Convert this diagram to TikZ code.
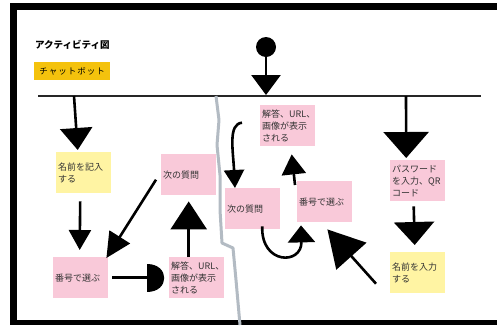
\documentclass[tikz,border=0pt]{standalone}
\usepackage{fontspec}
\newfontfamily\jp{Noto Sans CJK JP}
\newfontfamily\jptag[LetterSpace=12]{Noto Sans CJK JP}
\usetikzlibrary{arrows.meta,calc}
\definecolor{pinkbox}{HTML}{F9C9D9}
\definecolor{yellowbox}{HTML}{FFF4A3}
\definecolor{tagcol}{HTML}{F4C20D}
\definecolor{divcol}{HTML}{B3BBC3}
\definecolor{txt}{HTML}{333333}
\begin{document}
\begin{tikzpicture}[x=1pt,y=-1pt,
  box/.style={anchor=north west, inner xsep=2pt, inner ysep=0pt, align=left,
    text width=51pt, minimum width=55pt, minimum height=41pt,
    font=\jp\fontsize{9}{12}\selectfont, text=txt},
  pinkb/.style={box, fill=pinkbox},
  yellowb/.style={box, fill=yellowbox},
  conn/.style={line width=2.6pt, draw=black},
  ahead/.style 2 args={-{Triangle[width=#1pt,length=#2pt]}}]
\useasboundingbox (0,0) rectangle (497,325);
% frame
\fill[black] (10,3) rectangle (497,10);
\fill[black] (10,3) rectangle (17,325);
\fill[black] (10,320) rectangle (497,325);
% title and tag
\node[anchor=west, inner sep=0pt, font=\jp\bfseries\fontsize{9.5}{11}\selectfont] (title) at (35,45) {アクティビティ図};
\node[anchor=north west, fill=tagcol, minimum width=76pt, minimum height=18pt, inner sep=0pt,
  font=\jptag\fontsize{8.5}{10}\selectfont] (tag) at (34,62) {チャットボット};
% swimlane line and divider
\coordinate (laneA) at (38,96);
\coordinate (laneB) at (481,96);
\draw[line width=1.5pt, black!85] (laneA) -- (laneB);
\draw[line width=3pt, divcol, line join=round] (216,96) -- (219,120) -- (217,145) -- (220,175) -- (220,210) -- (222,243) -- (233,248) -- (236,280) -- (240,325);
% boxes
\node[yellowb] (nameL) at (56,152) {名前を記入\\する};
\node[pinkb] (numL) at (53,257) {番号で選ぶ};
\node[pinkb] (ansL) at (169,257) {解答、URL、\\画像が表示\\される};
\node[pinkb] (nextL) at (161,154) {次の質問};
\node[pinkb] (ansR) at (260,105) {解答、URL、\\画像が表示\\される};
\node[pinkb] (nextR) at (225,188) {次の質問};
\node[pinkb] (numR) at (297,181) {番号で選ぶ};
\node[pinkb] (pwd) at (390,160) {パスワード\\を入力、QR\\コード};
\node[yellowb] (nameR) at (390,252) {名前を入力\\する};
% initial node
\node[circle, fill=black, minimum size=20pt, inner sep=0pt] (init) at (266,47) {};
\coordinate (barTop) at (266,95);
\draw[conn, ahead={29}{20}] (init.south) -- (barTop);
% left column
\coordinate (barL) at (74,96);
\draw[conn, ahead={32}{22}] (barL) -- ($(nameL.north)+(-6,-2)$);
\draw[conn, ahead={22}{20}] ($(nameL.south)+(-3.5,8)$) -- ($(numL.north)+(-1,-7)$);
\draw[conn, ahead={24}{25}] ($(nextL.west)+(-5,5)$) -- ($(numL.north east)+(-2,1)$);
\draw[conn] ($(numL.east)+(4,0)$) -- ($(ansL.west)+(-22,0)$);
\fill[black, shift={(ansL.west)}] (-22,-14) .. controls (1,-14) and (1,14) .. (-22,14) -- cycle;
\draw[conn, ahead={36}{28}] (ansL.north -| nextL.south) -- ($(nextL.south)+(0,6)$);
% middle column
\draw[conn, ahead={20}{18}] ($(ansR.west)+(-18,-3)$) .. controls (228,124) and (233,150) .. ($(nextR.north west)+(10,0)$);
\draw[conn, ahead={27}{17}] ($(nextR.south)+(9.5,-3)$) .. controls (261,265) and (302,265) .. ($(numR.south west)+(4,3)$);
\draw[conn, ahead={24}{20}] ($(numR.north west)+(-2,4)$) -- ($(ansR.south)+(4,8)$);
\draw[conn, ahead={40}{36}] ($(nameR.west)+(-14,11)$) -- ($(numR.south east)+(-25,7)$);
% right column
\coordinate (barR) at (406,96);
\draw[conn, ahead={45}{26}] (barR) -- ($(pwd.north)+(-11.5,-2)$);
\draw[conn, ahead={40}{23}] ($(pwd.south)+(-4,5)$) -- ($(nameR.north)+(-3,-7)$);
\end{tikzpicture}
\end{document}
